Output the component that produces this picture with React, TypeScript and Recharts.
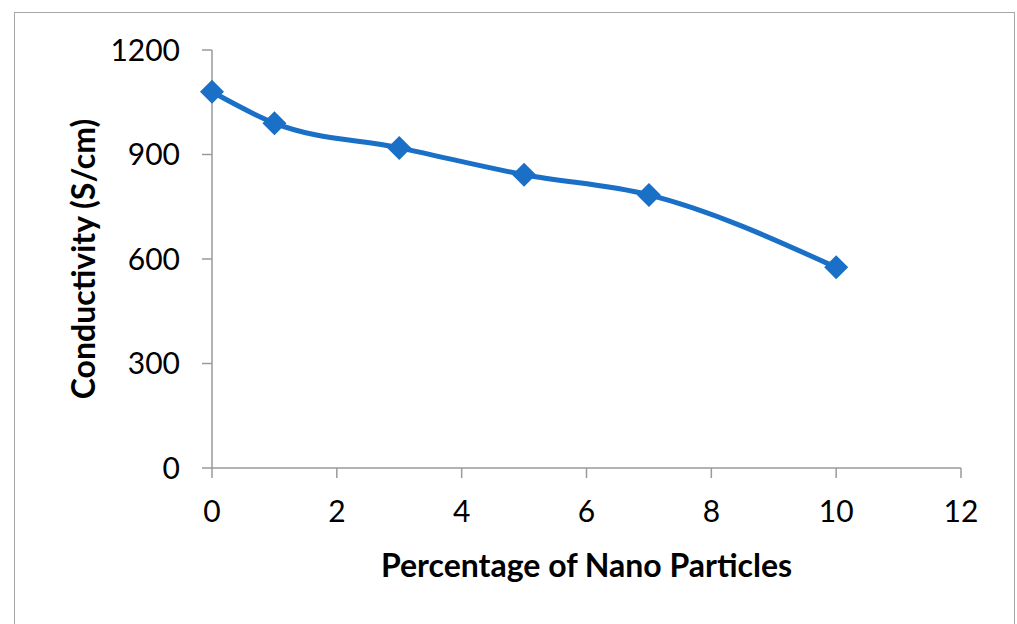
import { LineChart, Line, XAxis, YAxis, Label } from "recharts";

const percentages = [0, 1, 3, 5, 7, 10];
const conductivity = [1080, 990, 919, 842, 784, 576];
const xTicks = [0, 2, 4, 6, 8, 10, 12];
const yTicks = [0, 300, 600, 900, 1200];

const data = percentages.map((p, i) => ({ p, c: conductivity[i] }));

const blue = "#1a6fc6";
const axisGray = "#9a9a9a";
const font = "Lato, 'Open Sans', sans-serif";

const Diamond = (props: any) => {
  const { cx, cy } = props;
  if (cx == null || cy == null) return null;
  const r = 12;
  return (
    <polygon
      points={`${cx},${cy - r} ${cx + r},${cy} ${cx},${cy + r} ${cx - r},${cy}`}
      fill={blue}
    />
  );
};

const YTitle = (props: any) => {
  const vb = props.viewBox;
  const x = vb.x + vb.width - 130;
  const y = vb.y + vb.height / 2;
  return (
    <text
      x={x}
      y={y}
      transform={`rotate(-90, ${x}, ${y})`}
      textAnchor="middle"
      dominantBaseline="central"
      fontFamily={font}
      fontWeight="bold"
      fontSize={32}
      fill="#000"
    >
      Conductivity (S/cm)
    </text>
  );
};

export default function App() {
  return (
    <div style={{ position: "absolute", left: 0, top: 0, width: 1017, height: 624, background: "#fff" }}>
      <div
        style={{
          position: "absolute",
          left: 14,
          top: 12,
          width: 1001,
          height: 640,
          border: "1px solid #a6a6a6",
          boxSizing: "border-box",
        }}
      />
      <div style={{ position: "absolute", left: 0, top: 0 }}>
        <LineChart
          width={1017}
          height={624}
          data={data}
          margin={{ top: 50, right: 56, left: 0, bottom: 0 }}
        >
          <XAxis
            dataKey="p"
            type="number"
            domain={[0, 12]}
            ticks={xTicks}
            height={156}
            tickSize={10}
            tickMargin={23}
            stroke={axisGray}
            strokeWidth={1.5}
            tick={{ fill: "#000", fontSize: 30, fontFamily: font }}
          >
            <Label
              value="Percentage of Nano Particles"
              position="insideTop"
              offset={86}
              fill="#000"
              fontSize={32}
              fontWeight="bold"
              fontFamily={font}
            />
          </XAxis>
          <YAxis
            type="number"
            domain={[0, 1200]}
            ticks={yTicks}
            width={212}
            tickSize={10}
            tickMargin={22}
            stroke={axisGray}
            strokeWidth={1.5}
            tick={{ fill: "#000", fontSize: 30, fontFamily: font }}
          >
            <Label content={YTitle} />
          </YAxis>
          <Line
            type="monotone"
            dataKey="c"
            stroke={blue}
            strokeWidth={5}
            dot={<Diamond />}
            activeDot={false}
            isAnimationActive={false}
          />
        </LineChart>
      </div>
    </div>
  );
}
